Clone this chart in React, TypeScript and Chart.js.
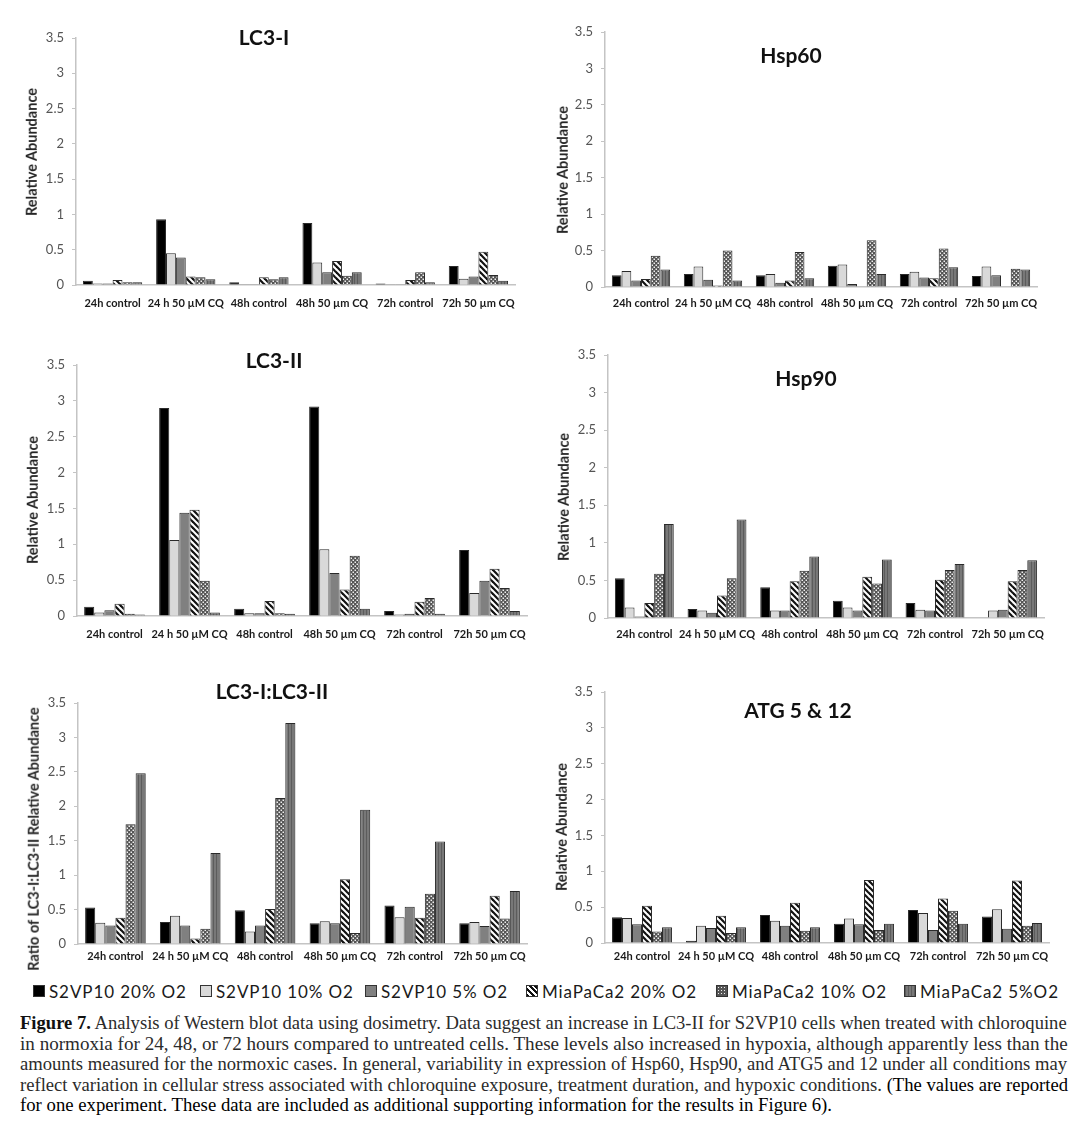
import React, { useEffect, useRef } from "react";
import { Chart, registerables } from "chart.js";

Chart.register(...registerables);

// ---------- DATA ----------
const categories = [
  "24h control",
  "24 h 50 µM CQ",
  "48h control",
  "48h 50 µm CQ",
  "72h control",
  "72h 50 µm CQ",
];

const seriesNames = [
  "S2VP10 20% O2",
  "S2VP10 10% O2",
  "S2VP10 5% O2",
  "MiaPaCa2 20% O2",
  "MiaPaCa2 10% O2",
  "MiaPaCa2 5%O2",
];

const yTickValues = [0, 0.5, 1, 1.5, 2, 2.5, 3, 3.5];
const yTickLabels = ["0", "0.5", "1", "1.5", "2", "2.5", "3", "3.5"];

// each inner array = one series across the six categories
const lc3iValues = [
  [0.06, 0.93, 0.04, 0.88, 0.02, 0.27],
  [0.02, 0.45, 0.01, 0.32, 0.01, 0.09],
  [0.02, 0.39, 0.01, 0.18, 0.01, 0.12],
  [0.07, 0.12, 0.11, 0.34, 0.07, 0.47],
  [0.04, 0.11, 0.08, 0.13, 0.18, 0.14],
  [0.04, 0.08, 0.11, 0.18, 0.04, 0.06],
];

const hsp60Values = [
  [0.16, 0.18, 0.16, 0.29, 0.18, 0.15],
  [0.22, 0.28, 0.18, 0.31, 0.21, 0.28],
  [0.09, 0.1, 0.06, 0.04, 0.13, 0.16],
  [0.11, 0.02, 0.09, 0, 0.12, 0],
  [0.43, 0.5, 0.48, 0.64, 0.53, 0.25],
  [0.24, 0.09, 0.12, 0.18, 0.27, 0.24],
];

const lc3iiValues = [
  [0.13, 2.9, 0.1, 2.92, 0.07, 0.92],
  [0.05, 1.06, 0.04, 0.93, 0.02, 0.32],
  [0.08, 1.44, 0.04, 0.6, 0.03, 0.49],
  [0.17, 1.48, 0.21, 0.37, 0.2, 0.66],
  [0.03, 0.49, 0.04, 0.84, 0.25, 0.39],
  [0.02, 0.05, 0.03, 0.1, 0.03, 0.07],
];

const hsp90Values = [
  [0.53, 0.12, 0.41, 0.23, 0.2, 0],
  [0.14, 0.1, 0.1, 0.14, 0.11, 0.1],
  [0.02, 0.07, 0.1, 0.1, 0.1, 0.11],
  [0.2, 0.3, 0.49, 0.55, 0.51, 0.49],
  [0.59, 0.53, 0.63, 0.46, 0.64, 0.64],
  [1.25, 1.31, 0.82, 0.78, 0.72, 0.77],
];

const ratioValues = [
  [0.53, 0.32, 0.49, 0.3, 0.56, 0.3],
  [0.31, 0.41, 0.18, 0.33, 0.39, 0.32],
  [0.27, 0.27, 0.27, 0.3, 0.54, 0.26],
  [0.38, 0.08, 0.51, 0.94, 0.38, 0.7],
  [1.74, 0.22, 2.12, 0.16, 0.73, 0.37],
  [2.48, 1.32, 3.21, 1.95, 1.49, 0.77],
];

const atgValues = [
  [0.36, 0.03, 0.39, 0.27, 0.46, 0.37],
  [0.35, 0.24, 0.31, 0.34, 0.42, 0.47],
  [0.26, 0.21, 0.24, 0.26, 0.18, 0.2],
  [0.52, 0.38, 0.56, 0.88, 0.62, 0.87],
  [0.16, 0.14, 0.17, 0.18, 0.45, 0.24],
  [0.22, 0.22, 0.22, 0.27, 0.27, 0.28],
];

const panelTitles = ["LC3-I", "Hsp60", "LC3-II", "Hsp90", "LC3-I:LC3-II", "ATG 5 & 12"];
const yAxisTitles = [
  "Relative Abundance",
  "Relative Abundance",
  "Relative Abundance",
  "Relative Abundance",
  "Ratio of LC3-I:LC3-II Relative Abundance",
  "Relative Abundance",
];
const panelValues = [lc3iValues, hsp60Values, lc3iiValues, hsp90Values, ratioValues, atgValues];

// ---------- LAYOUT ----------
const LAYOUT = [
  { canvas: { left: 0, top: 20, width: 545, height: 300 }, area: { x0: 76, y0: 38, x1: 515, y1: 285 }, xPad: 12, title: [264, 36], yTitle: [32, 152] },
  { canvas: { left: 545, top: 10, width: 539, height: 310 }, area: { x0: 605, y0: 32, x1: 1037, y1: 287 }, xPad: 10, title: [791, 54], yTitle: [563, 170] },
  { canvas: { left: 0, top: 335, width: 545, height: 320 }, area: { x0: 77, y0: 365, x1: 527, y1: 616 }, xPad: 12, title: [274, 359], yTitle: [33, 500] },
  { canvas: { left: 545, top: 335, width: 539, height: 320 }, area: { x0: 608, y0: 355, x1: 1044, y1: 618 }, xPad: 10, title: [806, 377], yTitle: [564, 497] },
  { canvas: { left: 0, top: 665, width: 545, height: 305 }, area: { x0: 78, y0: 703, x1: 527, y1: 944 }, xPad: 6, title: [272, 690], yTitle: [34, 839] },
  { canvas: { left: 545, top: 665, width: 539, height: 305 }, area: { x0: 605, y0: 692, x1: 1049, y1: 943 }, xPad: 7, title: [798, 709], yTitle: [562, 827] },
];

const LEGEND_X = [33, 200, 365, 526, 716, 904];

const FONT = "Lato, 'Open Sans', sans-serif";
const SERIF = "'Liberation Serif', 'DejaVu Serif', serif";

function makeFills(ctx: CanvasRenderingContext2D): (string | CanvasPattern)[] {
  const stripe = document.createElement("canvas");
  stripe.width = 6;
  stripe.height = 6;
  const s = stripe.getContext("2d")!;
  s.fillStyle = "#ffffff";
  s.fillRect(0, 0, 6, 6);
  s.strokeStyle = "#111111";
  s.lineWidth = 2.2;
  for (const k of [-6, 0, 6]) {
    s.beginPath();
    s.moveTo(k - 1, -1);
    s.lineTo(k + 7, 7);
    s.stroke();
  }

  const dots = document.createElement("canvas");
  dots.width = 4;
  dots.height = 4;
  const d = dots.getContext("2d")!;
  d.fillStyle = "#555555";
  d.fillRect(0, 0, 4, 4);
  d.fillStyle = "#f0f0f0";
  d.fillRect(0.5, 0.5, 1.5, 1.5);
  d.fillRect(2.5, 2.5, 1.5, 1.5);

  const vert = document.createElement("canvas");
  vert.width = 3;
  vert.height = 1;
  const v = vert.getContext("2d")!;
  v.fillStyle = "#787878";
  v.fillRect(0, 0, 3, 1);
  v.fillStyle = "#5c5c5c";
  v.fillRect(0, 0, 1, 1);

  return [
    "#000000",
    "#d9d9d9",
    "#808080",
    ctx.createPattern(stripe, "repeat")!,
    ctx.createPattern(dots, "repeat")!,
    ctx.createPattern(vert, "repeat")!,
  ];
}

function BarPanel({ index }: { index: number }) {
  const ref = useRef<HTMLCanvasElement>(null);
  const lay = LAYOUT[index];
  const c = lay.canvas;

  useEffect(() => {
    const canvas = ref.current!;
    const ctx = canvas.getContext("2d")!;
    const fills = makeFills(ctx);
    const a = lay.area;
    const yW = a.x0 - c.left;
    const padTop = a.y0 - c.top;
    const padRight = c.left + c.width - a.x1;
    const xH = c.top + c.height - a.y1;
    const values = panelValues[index];

    const chart = new Chart(canvas, {
      type: "bar",
      data: {
        labels: categories,
        datasets: seriesNames.map((name, i) => ({
          label: name,
          data: values[i],
          backgroundColor: fills[i] as any,
          borderColor: "#2a2a2a",
          borderWidth: 1,
          barPercentage: 1,
          categoryPercentage: 0.81,
        })),
      },
      options: {
        animation: false,
        responsive: false,
        maintainAspectRatio: false,
        layout: { padding: { top: padTop, right: padRight, left: 0, bottom: 0 } },
        plugins: {
          legend: { display: false },
          title: { display: false },
          tooltip: { enabled: false },
        },
        scales: {
          x: {
            grid: { display: false, drawTicks: false },
            border: { display: true, color: "#c4c4c4", width: 1.5 },
            ticks: {
              autoSkip: false,
              maxRotation: 0,
              minRotation: 0,
              padding: lay.xPad,
              color: "#1a1a1a",
              font: { family: FONT, size: 11, weight: "bold" },
            },
            afterFit: (scale: any) => {
              scale.height = xH;
            },
          },
          y: {
            min: yTickValues[0],
            max: yTickValues[yTickValues.length - 1],
            afterBuildTicks: (scale: any) => {
              scale.ticks = yTickValues.map((v) => ({ value: v }));
            },
            ticks: {
              padding: 8,
              color: "#555555",
              font: { family: FONT, size: 13 },
              callback: (value: any) => {
                const idx = yTickValues.indexOf(Number(value));
                return idx >= 0 ? yTickLabels[idx] : String(value);
              },
            },
            grid: {
              display: true,
              drawOnChartArea: false,
              drawTicks: true,
              tickLength: 4,
              color: "#c4c4c4",
            },
            border: { display: true, color: "#c4c4c4", width: 1.5 },
            afterFit: (scale: any) => {
              scale.width = yW;
            },
          },
        },
      },
    } as any);
    return () => chart.destroy();
  }, []);

  return (
    <canvas
      ref={ref}
      width={c.width}
      height={c.height}
      style={{ position: "absolute", left: c.left, top: c.top, width: c.width, height: c.height }}
    />
  );
}

const swatchStyles: React.CSSProperties[] = [
  { background: "#000" },
  { background: "#d9d9d9" },
  { background: "#808080" },
  { background: "repeating-linear-gradient(45deg, #111 0 2px, #fff 2px 4px)" },
  {
    backgroundColor: "#555",
    backgroundImage: "radial-gradient(#f0f0f0 35%, transparent 40%)",
    backgroundSize: "3px 3px",
  },
  { background: "repeating-linear-gradient(90deg, #5c5c5c 0 1px, #787878 1px 3px)" },
];

const captionBold = "Figure 7.";
const captionLines = [
  " Analysis of Western blot data using dosimetry. Data suggest an increase in LC3-II for S2VP10 cells when treated with chloroquine",
  "in normoxia for 24, 48, or 72 hours compared to untreated cells. These levels also increased in hypoxia, although apparently less than the",
  "amounts measured for the normoxic cases. In general, variability in expression of Hsp60, Hsp90, and ATG5 and 12 under all conditions may",
  "reflect variation in cellular stress associated with chloroquine exposure, treatment duration, and hypoxic conditions. (The values are reported",
  "for one experiment. These data are included as additional supporting information for the results in Figure 6).",
];

const CAPTION_SIZE = 18;
const CAPTION_WIDTH = 1048;

function measure(text: string, bold: boolean): number {
  const cv = document.createElement("canvas");
  const g = cv.getContext("2d")!;
  g.font = `${bold ? "bold " : ""}${CAPTION_SIZE}px ${SERIF}`;
  return g.measureText(text).width;
}

export default function App() {
  const widths = captionLines.map((t, i) => measure(t, false) + (i === 0 ? measure(captionBold, true) : 0));
  const scales = widths.map((w) => CAPTION_WIDTH / w);
  const avgScale = (scales[0] + scales[1] + scales[2] + scales[3]) / 4;
  scales[4] = Math.min(avgScale, scales[4]);

  return (
    <div
      style={{
        position: "absolute",
        left: 0,
        top: 0,
        width: 1084,
        height: 1132,
        background: "#ffffff",
        fontFamily: FONT,
        overflow: "hidden",
      }}
    >
      {LAYOUT.map((lay, i) => (
        <React.Fragment key={i}>
          <BarPanel index={i} />
          <div
            style={{
              position: "absolute",
              left: lay.title[0],
              top: lay.title[1],
              transform: "translate(-50%, -50%)",
              fontSize: 21,
              fontWeight: 700,
              color: "#111",
              whiteSpace: "nowrap",
              lineHeight: 1,
            }}
          >
            {panelTitles[i]}
          </div>
          <div
            style={{
              position: "absolute",
              left: lay.yTitle[0],
              top: lay.yTitle[1],
              transform: "translate(-50%, -50%) rotate(-90deg)",
              fontSize: 14.5,
              fontWeight: 700,
              color: "#262626",
              whiteSpace: "nowrap",
              lineHeight: 1,
            }}
          >
            {yAxisTitles[i]}
          </div>
        </React.Fragment>
      ))}

      {seriesNames.map((name, i) => (
        <div
          key={name}
          style={{
            position: "absolute",
            left: LEGEND_X[i],
            top: 982,
            height: 18,
            display: "flex",
            alignItems: "center",
            whiteSpace: "nowrap",
            fontSize: 17,
            letterSpacing: 0.9,
            color: "#1a1a1a",
          }}
        >
          <span
            style={{
              display: "inline-block",
              width: 10,
              height: 10,
              border: "1px solid #333",
              marginRight: 4,
              ...swatchStyles[i],
            }}
          />
          <span>{name}</span>
        </div>
      ))}

      <div
        style={{
          position: "absolute",
          left: 20,
          top: 1013,
          width: CAPTION_WIDTH,
          fontFamily: SERIF,
          fontSize: CAPTION_SIZE,
          color: "#2b2b2b",
        }}
      >
        {captionLines.map((t, i) => (
          <div
            key={i}
            style={{
              height: 20.6,
              lineHeight: "20.6px",
              whiteSpace: "pre",
              transformOrigin: "0 50%",
              transform: `scaleX(${scales[i]})`,
              color: i === 4 ? "#000" : "#2b2b2b",
            }}
          >
            {i === 0 ? <b style={{ color: "#111" }}>{captionBold}</b> : null}
            {i === 3 ? (
              <>
                {t.slice(0, t.indexOf("(The"))}
                <span style={{ color: "#000" }}>{t.slice(t.indexOf("(The"))}</span>
              </>
            ) : (
              t
            )}
          </div>
        ))}
      </div>
    </div>
  );
}
